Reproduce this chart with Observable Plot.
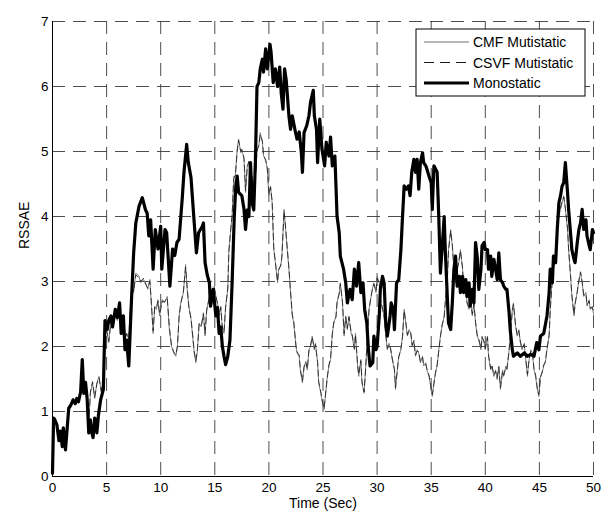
<!DOCTYPE html>
<html><head><meta charset="utf-8">
<script src="https://cdn.jsdelivr.net/npm/d3@7"></script>
<script src="https://cdn.jsdelivr.net/npm/@observablehq/plot@0.6"></script>
<style>
html,body{margin:0;padding:0;background:#fff}
#chart{width:613px;height:516px}
</style>
</head><body><div id="chart"></div>
<script>
// ---- data ----
const seriesNames = ["CMF Mutistatic", "CSVF Mutistatic", "Monostatic"];
const xTicks = [0, 5, 10, 15, 20, 25, 30, 35, 40, 45, 50];
const yTicks = [0, 1, 2, 3, 4, 5, 6, 7];

const monoTime = [0,0.1,0.2,0.4,0.6,0.75,0.9,1.0,1.2,1.5,1.7,1.9,2.1,2.25,2.4,2.6,2.75,2.9,3.05,3.2,3.35,3.5,3.6,3.75,3.9,4.0,4.1,4.25,4.45,4.7,4.85,5.05,5.2,5.4,5.55,5.8,6.0,6.2,6.35,6.55,6.7,6.85,7.05,7.3,7.5,7.7,8.0,8.3,8.6,8.75,8.9,9.07,9.3,9.5,9.75,10.0,10.1,10.4,10.55,10.85,11.1,11.3,11.5,11.7,12.0,12.15,12.4,12.55,12.8,13.1,13.3,13.5,13.85,13.95,14.1,14.3,14.5,14.6,14.85,15.1,15.25,15.4,15.55,15.7,15.85,16.0,16.2,16.4,16.6,16.8,16.95,17.07,17.2,17.5,17.7,17.84,18.0,18.15,18.3,18.45,18.6,18.75,18.9,19.07,19.2,19.4,19.5,19.7,19.85,20.1,20.2,20.4,20.6,20.8,21.0,21.14,21.3,21.45,21.6,21.85,22.0,22.16,22.4,22.6,22.8,23.0,23.1,23.25,23.5,23.7,23.85,24.1,24.2,24.4,24.5,24.7,24.9,25.15,25.3,25.55,25.7,25.86,26.1,26.3,26.5,26.6,26.9,27.1,27.25,27.5,27.7,27.9,28.1,28.3,28.5,28.7,28.85,29.05,29.2,29.35,29.6,29.7,29.9,30.0,30.2,30.3,30.5,30.65,30.8,30.95,31.2,31.3,31.5,31.6,31.8,32.0,32.2,32.35,32.5,32.7,32.9,33.05,33.2,33.4,33.55,33.7,33.85,34.0,34.2,34.3,34.5,34.6,34.8,35.0,35.1,35.25,35.4,35.55,35.7,35.85,36.0,36.2,36.3,36.5,36.6,36.8,36.95,37.1,37.25,37.4,37.6,37.7,37.9,38.0,38.2,38.3,38.5,38.6,38.8,38.95,39.1,39.25,39.4,39.6,39.7,39.9,40.0,40.2,40.3,40.5,40.6,40.8,40.95,41.1,41.25,41.4,41.6,41.7,41.9,42.0,42.2,42.3,42.5,42.6,42.95,43.25,43.6,43.9,44.2,44.5,44.75,44.95,45.1,45.4,45.7,45.9,46.0,46.2,46.3,46.5,46.65,46.8,46.95,47.1,47.25,47.4,47.6,47.7,47.9,48.0,48.2,48.3,48.5,48.65,48.8,48.95,49.1,49.3,49.4,49.6,49.7,49.9,50.0];
const monoVals = [0.05,0.9,0.88,0.8,0.55,0.7,0.46,0.75,0.41,1.05,1.1,1.18,1.12,1.2,1.15,1.3,1.8,1.28,1.45,1.2,0.67,0.87,0.7,0.6,0.9,0.87,0.67,0.95,1.18,1.34,2.4,2.26,2.4,2.47,2.3,2.57,2.45,2.67,2.2,2.47,1.95,2.1,1.7,2.72,3.44,3.9,4.16,4.29,4.1,4.05,3.7,3.95,3.19,3.8,3.5,3.85,3.19,3.8,3.75,2.93,3.5,3.4,3.6,3.65,4.3,4.68,5.11,4.83,4.6,3.9,3.44,3.75,3.85,3.9,3.29,3.1,2.98,2.62,2.88,2.47,2.6,2.2,2.3,2.0,1.85,1.72,1.85,2.1,2.98,4.0,4.5,4.62,4.37,4.32,4.11,3.8,4.1,4.0,4.83,4.21,4.1,4.83,6.0,6.06,6.27,6.42,6.22,6.58,6.27,6.65,6.53,6.06,6.27,6.0,6.3,5.9,5.65,6.27,6.1,5.55,5.34,5.55,5.34,5.19,5.3,4.98,4.68,5.29,5.4,5.55,5.76,5.94,5.55,5.34,4.83,5.5,5.04,4.78,5.14,4.93,5.22,4.78,4.93,4.0,3.75,3.39,3.19,2.98,2.67,2.88,2.72,3.19,2.93,3.29,2.83,2.98,2.57,2.36,1.95,1.7,1.75,2.16,1.95,2.0,2.47,2.88,3.08,2.98,2.36,2.16,2.47,2.67,2.57,2.26,2.98,3.03,3.49,4.0,4.47,4.42,4.47,4.32,4.68,4.88,4.68,4.88,4.42,4.83,4.98,4.83,4.78,4.73,4.62,4.52,4.11,4.78,4.73,4.68,4.0,3.13,3.49,4.0,3.49,2.72,2.36,2.26,2.67,3.19,3.39,2.93,3.08,2.83,3.08,2.83,3.03,2.77,2.98,2.62,2.88,2.67,3.6,3.39,2.88,3.19,3.55,3.6,3.49,3.49,3.19,3.39,3.08,3.34,3.19,3.03,3.44,3.03,2.98,2.93,2.88,2.88,2.52,2.26,1.95,1.85,1.9,1.85,1.9,1.85,1.88,1.85,2.06,1.95,2.16,2.2,2.47,2.83,3.19,2.98,3.39,3.29,3.8,4.21,4.32,4.47,4.52,4.83,4.37,4.11,3.7,3.49,3.34,3.29,3.6,3.8,3.9,4.11,3.8,3.95,3.7,3.55,3.49,3.8,3.75];

const thinTime = [0,0.1,0.2,0.4,0.6,0.75,0.9,1.0,1.2,1.5,1.7,1.9,2.1,2.25,2.4,2.6,2.75,2.9,3.05,3.2,3.35,3.5,3.7,3.9,4.1,4.3,4.5,4.7,4.85,5.05,5.2,5.4,5.6,5.8,6.0,6.2,6.35,6.55,6.7,6.85,7.05,7.2,7.4,7.5,7.7,8.0,8.15,8.4,8.6,8.8,9.0,9.15,9.3,9.45,9.6,9.75,9.9,10.15,10.35,10.6,10.8,11.0,11.2,11.4,11.55,11.7,11.85,12.1,12.3,12.45,12.6,12.8,12.95,13.1,13.25,13.4,13.55,13.75,13.95,14.1,14.25,14.5,14.7,14.95,15.1,15.25,15.4,15.55,15.7,15.85,16.0,16.2,16.3,16.5,16.6,16.75,16.9,17.07,17.2,17.4,17.5,17.7,17.84,18.0,18.15,18.3,18.45,18.6,18.75,18.9,19.07,19.2,19.4,19.5,19.7,19.85,20.0,20.15,20.3,20.45,20.6,20.8,20.9,21.1,21.2,21.4,21.55,21.7,21.85,22.0,22.16,22.3,22.5,22.6,22.8,22.9,23.1,23.25,23.4,23.55,23.7,23.85,24.0,24.2,24.3,24.5,24.6,24.8,24.95,25.1,25.25,25.4,25.55,25.7,25.86,26.0,26.2,26.3,26.5,26.6,26.8,26.95,27.1,27.25,27.4,27.6,27.7,27.9,28.0,28.2,28.3,28.5,28.6,28.8,28.95,29.1,29.25,29.4,29.55,29.7,29.9,30.0,30.2,30.3,30.5,30.65,30.8,30.95,31.1,31.25,31.4,31.6,31.7,31.9,32.0,32.2,32.35,32.5,32.65,32.8,32.95,33.1,33.25,33.4,33.55,33.7,33.85,34.0,34.2,34.3,34.5,34.6,34.8,34.95,35.1,35.25,35.4,35.55,35.7,35.85,36.0,36.2,36.3,36.5,36.6,36.8,36.95,37.1,37.25,37.4,37.55,37.7,37.9,38.0,38.2,38.3,38.5,38.6,38.8,38.95,39.1,39.25,39.4,39.6,39.7,39.9,40.0,40.2,40.3,40.5,40.6,40.8,40.95,41.1,41.25,41.4,41.6,41.7,41.9,42.0,42.2,42.3,42.5,42.6,42.8,42.95,43.1,43.25,43.4,43.6,43.7,43.9,44.0,44.2,44.35,44.5,44.65,44.8,44.95,45.1,45.25,45.4,45.55,45.7,45.9,46.0,46.2,46.3,46.5,46.65,46.8,46.95,47.1,47.25,47.4,47.6,47.7,47.9,48.0,48.2,48.3,48.5,48.65,48.8,48.95,49.1,49.3,49.4,49.6,49.7,49.9,50.0];
const cmfVals = [0.05,0.9,0.88,0.8,0.55,0.7,0.46,0.75,0.41,1.05,1.1,1.18,1.12,1.2,1.15,1.3,1.7,1.28,1.4,1.2,0.8,1.28,1.44,1.2,1.44,1.54,1.3,1.5,2.3,2.2,2.06,2.4,2.3,2.5,2.4,2.55,2.3,2.4,2.1,2.2,2.1,2.6,2.9,2.83,3.13,3.08,2.98,3.03,2.98,2.88,3.03,2.62,2.2,2.62,2.57,2.72,2.47,2.72,2.67,2.77,2.26,2.0,1.9,1.85,2.0,2.47,2.67,2.83,3.26,2.88,2.62,2.42,2.16,1.9,1.75,1.95,2.36,2.3,2.52,2.16,2.57,2.77,2.62,2.93,2.77,2.67,2.47,2.62,2.26,2.2,2.62,2.88,3.49,3.85,4.0,4.62,4.62,5.04,5.19,4.98,5.04,4.88,4.37,4.78,4.83,4.52,4.62,4.21,4.62,5.04,5.09,5.29,5.14,4.93,4.88,4.73,4.32,4.47,4.21,3.49,3.29,2.98,3.19,3.24,3.39,4.11,3.8,3.49,3.19,2.83,2.47,2.36,2.0,1.9,1.85,1.64,1.44,1.7,1.75,1.64,1.95,2.0,2.16,1.95,2.05,1.75,1.44,1.28,1.13,1.03,1.28,1.54,1.7,1.8,2.2,2.36,2.47,2.67,2.83,2.98,2.67,2.16,2.47,2.26,2.47,2.2,2.16,1.95,2.2,1.7,1.54,1.8,1.44,1.28,1.7,2.16,2.57,2.72,2.88,2.98,2.83,3.08,2.98,2.72,2.57,2.47,2.16,1.95,2.05,1.95,1.8,1.64,1.34,1.7,1.85,1.95,2.16,2.57,2.36,2.16,2.26,2.21,2.0,2.1,1.85,1.95,1.9,1.75,1.85,1.7,1.75,1.64,1.54,1.39,1.23,1.44,1.59,1.7,1.95,2.16,2.31,2.47,2.67,3.08,3.49,3.8,3.55,3.19,2.98,3.19,3.29,3.49,3.19,2.83,3.03,2.67,2.57,2.77,2.47,2.67,2.36,2.16,2.1,1.95,2.16,2.05,1.95,2.16,1.85,1.64,1.7,1.54,1.64,1.49,1.7,1.34,1.64,1.54,1.7,1.64,1.95,2.16,2.57,2.67,2.31,2.16,2.26,2.05,1.95,2.05,1.85,1.54,1.75,1.95,1.9,1.64,1.54,1.34,1.23,1.54,1.59,1.7,1.75,1.95,2.16,2.57,3.08,3.19,3.39,3.8,4.0,4.11,4.21,4.32,4.11,3.8,3.49,3.03,2.77,2.47,2.67,2.83,3.03,3.13,2.98,2.77,2.83,2.62,2.72,2.57,2.62,2.5];
const csvfVals = [0.05,0.9,0.88,0.8,0.55,0.7,0.46,0.75,0.41,1.05,1.1,1.18,1.12,1.2,1.15,1.3,1.72,1.3,1.42,1.2,0.82,1.3,1.46,1.22,1.42,1.52,1.32,1.48,2.3,2.22,2.08,2.38,2.3,2.48,2.42,2.53,2.32,2.4,2.12,2.2,2.12,2.6,2.92,2.85,3.1,3.06,3.0,3.05,2.96,2.9,3.0,2.64,2.24,2.6,2.59,2.7,2.5,2.7,2.69,2.75,2.3,2.02,1.92,1.87,2.02,2.45,2.65,2.85,3.22,2.9,2.6,2.44,2.18,1.92,1.78,1.97,2.34,2.32,2.5,2.2,2.55,2.75,2.64,2.9,2.78,2.65,2.5,2.6,2.3,2.22,2.6,2.9,3.45,3.85,4.02,4.58,4.64,5.0,5.17,5.0,5.02,4.9,4.4,4.76,4.85,4.55,4.6,4.25,4.6,5.0,5.1,5.26,5.16,4.95,4.86,4.75,4.35,4.45,4.24,3.52,3.3,3.0,3.17,3.26,3.37,4.08,3.82,3.5,3.21,2.85,2.5,2.38,2.02,1.92,1.87,1.66,1.47,1.68,1.77,1.66,1.93,2.02,2.14,1.97,2.03,1.77,1.46,1.3,1.15,1.05,1.3,1.52,1.72,1.82,2.18,2.38,2.45,2.69,2.81,2.96,2.69,2.2,2.45,2.28,2.45,2.22,2.18,1.97,2.18,1.72,1.57,1.78,1.47,1.3,1.68,2.14,2.55,2.74,2.86,2.96,2.85,3.05,2.96,2.74,2.59,2.45,2.18,1.97,2.03,1.97,1.82,1.66,1.37,1.68,1.83,1.97,2.14,2.55,2.38,2.18,2.24,2.23,2.02,2.08,1.87,1.93,1.92,1.77,1.83,1.72,1.73,1.66,1.56,1.41,1.26,1.42,1.61,1.72,1.93,2.14,2.33,2.45,2.69,3.05,3.47,3.78,3.57,3.21,3.0,3.17,3.31,3.47,3.21,2.85,3.01,2.69,2.59,2.75,2.5,2.65,2.38,2.18,2.12,1.97,2.14,2.07,1.97,2.14,1.87,1.66,1.72,1.56,1.62,1.52,1.68,1.37,1.62,1.56,1.68,1.66,1.93,2.14,2.55,2.65,2.33,2.18,2.24,2.07,1.97,2.03,1.87,1.57,1.73,1.93,1.92,1.66,1.56,1.37,1.26,1.52,1.61,1.72,1.77,1.97,2.18,2.55,3.05,3.21,3.37,3.78,4.02,4.13,4.24,4.3,4.13,3.82,3.5,3.05,2.79,2.5,2.65,2.85,3.01,3.15,3.0,2.79,2.81,2.64,2.7,2.59,2.6,2.52];

// ---- build tables ----
const mono = monoTime.map((t, i) => ({t, v: monoVals[i]}));
const cmf = thinTime.map((t, i) => ({t, v: cmfVals[i]}));
const csvf = thinTime.map((t, i) => ({t, v: csvfVals[i]}));

const font = "'Liberation Sans', Arial, Helvetica, sans-serif";
const gridStyle = {stroke: "#3a3a3a", strokeOpacity: 1, strokeWidth: 0.9, strokeDasharray: "13,8"};

const svg = Plot.plot({
  width: 613,
  height: 516,
  marginLeft: 52,
  marginRight: 20,
  marginTop: 21,
  marginBottom: 40,
  style: {fontFamily: font, background: "#fff", color: "#000"},
  x: {domain: [0, 50]},
  y: {domain: [0, 7]},
  marks: [
    Plot.gridX(xTicks, gridStyle),
    Plot.gridY(yTicks, gridStyle),
    Plot.lineY(cmf, {x: "t", y: "v", stroke: "#707070", strokeWidth: 0.9}),
    Plot.lineY(csvf, {x: "t", y: "v", stroke: "#1a1a1a", strokeWidth: 0.8, strokeDasharray: "6,4"}),
    Plot.lineY(mono, {x: "t", y: "v", stroke: "#000", strokeWidth: 3.2, strokeLinejoin: "round"}),
    Plot.ruleX([0], {stroke: "#000", strokeWidth: 1}),
    Plot.ruleY([0], {stroke: "#000", strokeWidth: 1}),
    Plot.axisX(xTicks, {tickSize: 0, tickPadding: 6, fontSize: 13.5, label: null, tickFormat: d => String(d)}),
    Plot.axisY(yTicks, {tickSize: 0, tickPadding: 4, fontSize: 13.5, label: null, tickFormat: d => String(d)}),
    Plot.text(["Time (Sec)"], {frameAnchor: "bottom", dy: 22, lineAnchor: "top", fontSize: 14, fill: "#000"}),
    Plot.text(["RSSAE"], {frameAnchor: "left", rotate: -90, dx: -28, fontSize: 14, fill: "#000"})
  ]
});

// ---- legend (inside the axes, top-right) ----
const xScale = svg.scale("x"), yScale = svg.scale("y");
const frameRight = xScale.range[1], frameTop = yScale.range[1];
const lw = 169, lh = 67;
const lg = d3.select(svg).append("g")
  .attr("transform", `translate(${frameRight - 8 - lw},${frameTop + 8})`)
  .attr("font-family", font).attr("font-size", 14).attr("text-anchor", "start");
lg.append("rect").attr("width", lw).attr("height", lh)
  .attr("fill", "#fff").attr("stroke", "#000").attr("stroke-width", 1);
const legendStyles = [
  {stroke: "#707070", w: 1, dash: null},
  {stroke: "#1a1a1a", w: 1, dash: "10,6"},
  {stroke: "#000", w: 3, dash: null}
];
seriesNames.forEach((name, i) => {
  const ly = 13 + i * 20.5;
  const s = legendStyles[i];
  const l = lg.append("line").attr("x1", 8).attr("x2", 53).attr("y1", ly).attr("y2", ly)
    .attr("stroke", s.stroke).attr("stroke-width", s.w);
  if (s.dash) l.attr("stroke-dasharray", s.dash);
  lg.append("text").attr("x", 57).attr("y", ly).attr("dy", "0.36em")
    .attr("text-anchor", "start").attr("fill", "#000").text(name);
});

document.getElementById("chart").appendChild(svg);
</script>
</body></html>
